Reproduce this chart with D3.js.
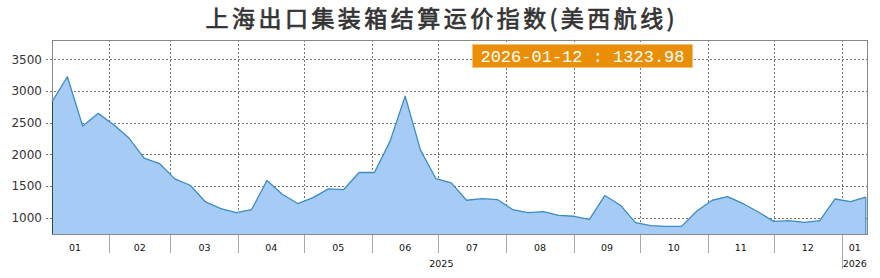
<!DOCTYPE html>
<html>
<head>
<meta charset="utf-8">
<script src="https://cdn.jsdelivr.net/npm/d3@7"></script>
<style>
  html, body { margin: 0; padding: 0; background: #fff; }
  svg { display: block; }
</style>
</head>
<body>
<svg id="chart" width="880" height="278"></svg>
<script>
const titleText = "上海出口集装箱结算运价指数(美西航线)";
const dates = [
  "2025-01-06","2025-01-13","2025-01-20","2025-01-27",
  "2025-02-03","2025-02-10","2025-02-17","2025-02-24",
  "2025-03-03","2025-03-10","2025-03-17","2025-03-24","2025-03-31",
  "2025-04-07","2025-04-14","2025-04-21","2025-04-28",
  "2025-05-05","2025-05-12","2025-05-19","2025-05-26",
  "2025-06-02","2025-06-09","2025-06-16","2025-06-23","2025-06-30",
  "2025-07-07","2025-07-14","2025-07-21","2025-07-28",
  "2025-08-04","2025-08-11","2025-08-18","2025-08-25",
  "2025-09-01","2025-09-08","2025-09-15","2025-09-22","2025-09-29",
  "2025-10-06","2025-10-13","2025-10-20","2025-10-27",
  "2025-11-03","2025-11-10","2025-11-17","2025-11-24",
  "2025-12-01","2025-12-08","2025-12-15","2025-12-22","2025-12-29",
  "2026-01-05","2026-01-12"
];
const values = [
  2829, 3225, 2445, 2646,
  2470, 2260, 1938, 1854,
  1611, 1511, 1247, 1142, 1079,
  1127, 1585, 1369, 1222,
  1316, 1453, 1443, 1712,
  1712, 2196, 2919, 2065, 1617,
  1548, 1274, 1300, 1285,
  1127, 1079, 1095, 1036,
  1021, 973, 1348, 1200, 921,
  873, 862, 862, 1104,
  1274, 1332, 1222, 1089,
  941, 952, 926, 952, 1294,
  1253, 1323.98
];
const yTicks = [1000, 1500, 2000, 2500, 3000, 3500];
const monthLabels = ["01","02","03","04","05","06","07","08","09","10","11","12","01"];
const monthStarts = ["2025-01-01","2025-02-01","2025-03-01","2025-04-01","2025-05-01","2025-06-01",
  "2025-07-01","2025-08-01","2025-09-01","2025-10-01","2025-11-01","2025-12-01","2026-01-01","2026-02-01"];
const yearLabels = ["2025","2026"];
const yearStarts = ["2025-01-01","2026-01-01","2027-01-01"];
const xDomain = ["2025-01-06","2026-01-13"];
const yDomain = [741, 3805];
const annotation = "2026-01-12 : 1323.98";

const parse = d3.timeParse("%Y-%m-%d");
const data = dates.map((d, i) => ({ date: parse(d), value: values[i] }));

const L = 52, R = 868, T = 40, B = 234;
const svg = d3.select("#chart");

const x = d3.scaleTime().domain(xDomain.map(parse)).range([L, R]);
const y = d3.scaleLinear().domain(yDomain).range([B, T]);

// title
svg.append("text")
  .attr("x", 440).attr("y", 27)
  .attr("text-anchor", "middle")
  .attr("font-family", "'Noto Sans CJK SC', sans-serif")
  .attr("font-size", 23)
  .attr("font-weight", "normal")
  .attr("textLength", 469)
  .attr("lengthAdjust", "spacing")
  .attr("fill", "#333")
  .attr("stroke", "#333")
  .attr("stroke-width", 0.7)
  .text(titleText);

// grid
const grid = svg.append("g");
yTicks.forEach(t => {
  const yy = Math.round(y(t)) + 0.5;
  grid.append("line").attr("x1", L - 6).attr("x2", R).attr("y1", yy).attr("y2", yy)
    .attr("stroke", "#777").attr("stroke-dasharray", "2,2");
});
const mStarts = monthStarts.map(parse);
mStarts.forEach(d => {
  const xx = x(d);
  if (xx <= L + 1 || xx >= R - 1) return;
  const px = Math.round(xx) + 0.5;
  grid.append("line").attr("x1", px).attr("x2", px).attr("y1", T).attr("y2", B)
    .attr("stroke", "#777").attr("stroke-dasharray", "2,2");
});

// area
const area = d3.area().x(d => x(d.date)).y0(B).y1(d => y(d.value));
const line = d3.line().x(d => x(d.date)).y(d => y(d.value));
svg.append("path").datum(data).attr("d", area).attr("fill", "#a6cbf4");
svg.append("path").datum(data).attr("d", line).attr("fill", "none")
  .attr("stroke", "#3a8cc4").attr("stroke-width", 1.3).attr("stroke-linejoin", "round");
const first = data[0], last = data[data.length - 1];
svg.append("line").attr("x1", x(last.date)).attr("x2", x(last.date))
  .attr("y1", y(last.value)).attr("y2", B).attr("stroke", "#3a8cc4").attr("stroke-width", 1.2);

// border
svg.append("rect").attr("x", L + 0.5).attr("y", T + 0.5).attr("width", R - L - 1).attr("height", B - T)
  .attr("fill", "none").attr("stroke", "#888");
// left edge dark where area is
svg.append("line").attr("x1", L + 0.5).attr("x2", L + 0.5)
  .attr("y1", y(first.value)).attr("y2", B).attr("stroke", "#1f4a66");

// y labels
yTicks.forEach(t => {
  svg.append("text").attr("x", 42).attr("y", y(t) + 4.5)
    .attr("text-anchor", "end")
    .attr("font-family", "'DejaVu Sans', Verdana, sans-serif")
    .attr("font-size", 12).attr("fill", "#333")
    .text(t);
});

// x axis separators and labels
function labelPos(a, b) {
  const c = (x(a) + x(b)) / 2;
  if (c > R || c < L) return (Math.max(L, x(a)) + Math.min(R, x(b))) / 2;
  return c;
}
mStarts.slice(0, -1).forEach((d, i) => {
  const xx = x(d);
  if (xx > L + 1 && xx < R - 1) {
    const px = Math.round(xx) + 0.5;
    const isYear = d.getMonth() === 0;
    svg.append("line").attr("x1", px).attr("x2", px).attr("y1", B + 1).attr("y2", isYear ? 269 : 253)
      .attr("stroke", "#aaa");
  }
  svg.append("text").attr("x", labelPos(d, mStarts[i + 1])).attr("y", 250.5)
    .attr("text-anchor", "middle")
    .attr("font-family", "'DejaVu Sans', Verdana, sans-serif")
    .attr("font-size", 9.5).attr("fill", "#111")
    .text(monthLabels[i]);
});
const yStarts = yearStarts.map(parse);
yearLabels.forEach((lab, i) => {
  svg.append("text").attr("x", labelPos(yStarts[i], yStarts[i + 1])).attr("y", 266.5)
    .attr("text-anchor", "middle")
    .attr("font-family", "'DejaVu Sans', Verdana, sans-serif")
    .attr("font-size", 9.5).attr("fill", "#111")
    .text(lab);
});

// annotation box
svg.append("rect").attr("x", 472.5).attr("y", 44.5).attr("width", 220).attr("height", 23)
  .attr("fill", "#ea8f05").attr("stroke", "#f4c278");
svg.append("text").attr("x", 582.5).attr("y", 61.5)
  .attr("text-anchor", "middle")
  .attr("font-family", "'Liberation Mono', 'DejaVu Sans Mono', monospace")
  .attr("font-size", 17).attr("fill", "#fff")
  .text(annotation);
</script>
</body>
</html>
